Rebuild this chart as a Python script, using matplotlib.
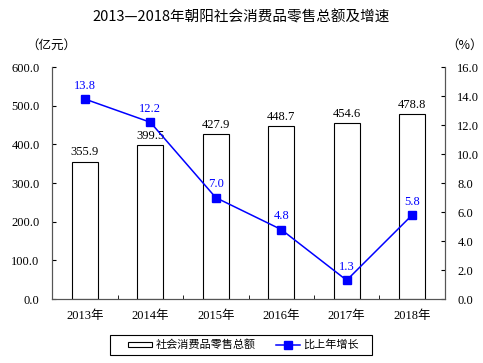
import matplotlib
matplotlib.use('Agg')
import matplotlib.pyplot as plt
from matplotlib.patches import Rectangle
import numpy as np

plt.rcParams['font.family'] = ['Liberation Serif', 'Noto Sans CJK SC']

years = ['2013年', '2014年', '2015年', '2016年', '2017年', '2018年']
sales = [355.9, 399.5, 427.9, 448.7, 454.6, 478.8]
growth = [13.8, 12.2, 7.0, 4.8, 1.3, 5.8]
left_ticks = [0, 100, 200, 300, 400, 500, 600]
right_ticks = [0, 2, 4, 6, 8, 10, 12, 14, 16]

cjk = ['Noto Sans CJK SC', 'DejaVu Sans']

fig = plt.figure(figsize=(4.83, 3.63), dpi=100)
ax = fig.add_axes([0.108, 0.176, 0.813, 0.639])
ax2 = ax.twinx()

x = np.arange(len(years))
bars = ax.bar(x, sales, width=0.4, color='white', edgecolor='black', linewidth=0.8,
              label='社会消费品零售总额', zorder=2)
for xi, v in zip(x, sales):
    ax.text(xi, v + 8, f'{v:.1f}', ha='center', va='bottom', fontsize=9)

line, = ax2.plot(x, growth, color='#0000FF', marker='s', markersize=6, linewidth=1.1,
                 label='比上年增长')
for xi, v in zip(x, growth):
    ax2.text(xi, v + 0.5, f'{v:.1f}', ha='center', va='bottom', fontsize=9, color='#0000FF')

ax.set_xlim(-0.5, len(years) - 0.5)
ax.set_ylim(0, 600)
ax2.set_ylim(0, 16)
ax.set_yticks(left_ticks)
ax.set_yticklabels([f'{t:.1f}' for t in left_ticks], fontsize=9)
ax2.set_yticks(right_ticks)
ax2.set_yticklabels([f'{t:.1f}' for t in right_ticks], fontsize=9)

ax.set_xticks(x)
ax.set_xticklabels(years, fontsize=9)
ax.tick_params(axis='x', length=0, pad=8)
ax.set_xticks(np.arange(len(years) + 1) - 0.5, minor=True)
ax.tick_params(axis='x', which='minor', direction='in', length=3)
ax.tick_params(axis='y', direction='in', length=3, pad=9)
ax2.tick_params(axis='y', direction='in', length=3, pad=9)

for a in (ax, ax2):
    a.spines['top'].set_visible(False)
    for s in ('left', 'right', 'bottom'):
        a.spines[s].set_color('#555555')
        a.spines[s].set_linewidth(0.8)

fig.text(0.5, 0.953, '2013—2018年朝阳社会消费品零售总额及增速', ha='center', va='center',
         fontsize=10.5, family=cjk)
fig.text(0.106, 0.875, '（亿元）', ha='center', va='center', fontsize=9, family=cjk)
fig.text(0.962, 0.875, '（%）', ha='center', va='center', fontsize=9, family=cjk)

# legend box drawn separately so the inner padding matches
fig.patches.append(Rectangle((110 / 483, 1 - 355 / 363), 262 / 483, 20 / 363,
                             transform=fig.transFigure, fill=False,
                             edgecolor='black', linewidth=0.8))
leg = fig.legend([bars, line], ['社会消费品零售总额', '比上年增长'], loc='center',
                 bbox_to_anchor=(0.504, 0.05), ncol=2, frameon=False,
                 handlelength=2.2, handleheight=0.35, handletextpad=0.3,
                 columnspacing=1.8, prop={'family': cjk, 'size': 8})

fig.savefig('out.png', dpi=100)
